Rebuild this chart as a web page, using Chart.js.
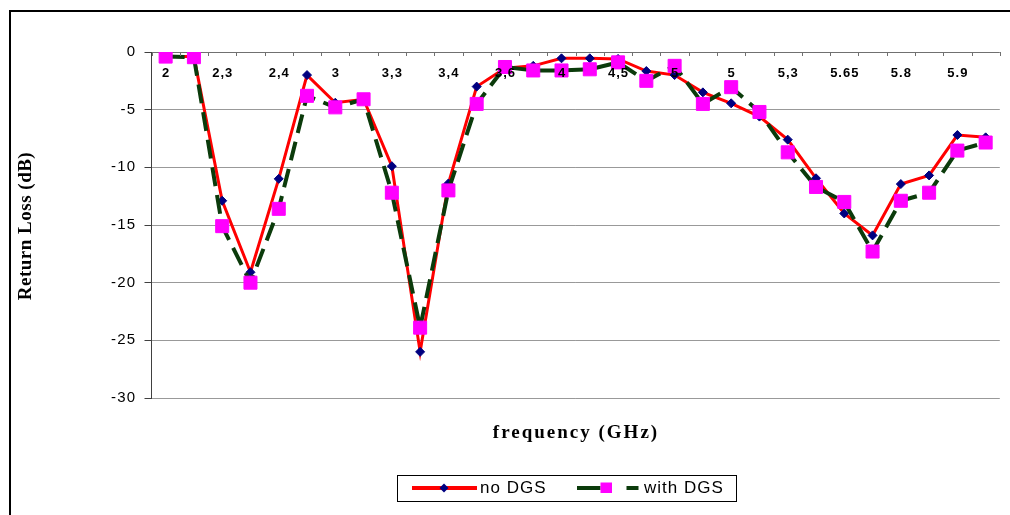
<!DOCTYPE html>
<html>
<head>
<meta charset="utf-8">
<script src="https://cdn.jsdelivr.net/npm/chart.js@4.4.1/dist/chart.umd.min.js"></script>
<style>
  html, body { margin: 0; padding: 0; background: #fff; }
  canvas { display: block; }
</style>
</head>
<body>
<canvas id="chart" width="1010" height="515"></canvas>
<script>
// Frequency labels shown on every second category of the top axis
const tickLabels = ['2', '2,3', '2,4', '3', '3,3', '3,4', '3,6', '4', '4,5', '5', '5', '5,3', '5.65', '5.8', '5.9'];
// 30 measurement points; the odd ones carry no printed label
const categories = tickLabels.flatMap(t => [t, '']);

// Return loss in dB
const noDGS = [-0.4, -0.4, -12.9, -19.1, -11.0, -2.0, -4.4, -4.1, -9.9, -26.0,
               -11.4, -3.0, -1.4, -1.2, -0.55, -0.55, -0.6, -1.65, -2.0, -3.5,
               -4.45, -5.6, -7.6, -10.95, -14.0, -15.9, -11.45, -10.7, -7.2, -7.4];
const withDGS = [-0.4, -0.45, -15.1, -20.0, -13.6, -3.8, -4.8, -4.1, -12.2, -23.9,
                 -12.0, -4.5, -1.3, -1.6, -1.6, -1.5, -0.9, -2.5, -1.2, -4.5,
                 -3.05, -5.2, -8.7, -11.7, -13.0, -17.3, -12.9, -12.2, -8.55, -7.85];

const seriesNames = ['no DGS', 'with DGS'];
const yMin = -30, yMax = 0, yStep = 5;
const xTitle = 'frequency (GHz)';
const yTitle = 'Return Loss (dB)';

const RED = '#ff0000', NAVY = '#000080', GREEN = '#0b3b0b', MAGENTA = '#ff00ff';
const SANS = '"Liberation Sans", Arial, sans-serif';
const SERIF = '"Liberation Serif", "Times New Roman", serif';

// Axis decorations, titles, frame and legend drawn on the chart canvas
const decor = {
  id: 'decor',
  beforeDraw(chart) {
    const ctx = chart.ctx;
    ctx.save();
    ctx.fillStyle = '#fff';
    ctx.fillRect(0, 0, chart.width, chart.height);
    ctx.restore();
    ctx.letterSpacing = '1.3px';
  },
  afterDatasetsDraw(chart) {
    const ctx = chart.ctx;
    const xs = chart.scales.x;
    const top = chart.chartArea.top;
    ctx.save();
    // category tick marks hanging below the top axis line
    ctx.strokeStyle = '#707070';
    ctx.lineWidth = 1;
    const n = categories.length;
    for (let i = 0; i <= n; i++) {
      const x = Math.round(xs.getPixelForDecimal(i / n)) + 0.5;
      ctx.beginPath();
      ctx.moveTo(x, top);
      ctx.lineTo(x, top + 4);
      ctx.stroke();
    }
    // category labels just below the axis line
    ctx.letterSpacing = '1px';
    ctx.font = 'bold 13px ' + SANS;
    ctx.fillStyle = '#000';
    ctx.textAlign = 'center';
    ctx.textBaseline = 'middle';
    categories.forEach((c, i) => {
      if (!c) return;
      ctx.fillText(c, xs.getPixelForValue(i) + 0.5, top + 21);
    });
    ctx.restore();
  },
  afterDraw(chart) {
    const ctx = chart.ctx;
    const ds = chart.data.datasets;
    ctx.save();

    // outer frame
    ctx.strokeStyle = '#000';
    ctx.lineWidth = 2;
    ctx.beginPath();
    ctx.moveTo(10, chart.height);
    ctx.lineTo(10, 11);
    ctx.lineTo(chart.width, 11);
    ctx.stroke();

    // axis titles
    ctx.fillStyle = '#000';
    ctx.textAlign = 'center';
    ctx.textBaseline = 'middle';
    ctx.font = 'bold 19px ' + SERIF;
    ctx.letterSpacing = '2px';
    ctx.fillText(xTitle, 576, 433);
    ctx.save();
    ctx.translate(26, 226);
    ctx.rotate(-Math.PI / 2);
    ctx.letterSpacing = '0.5px';
    ctx.fillText(yTitle, 0, 0);
    ctx.restore();

    // legend box
    ctx.lineWidth = 1;
    ctx.strokeStyle = '#000';
    ctx.strokeRect(397.5, 475.5, 339, 26);
    const ly = 488;

    // first entry: solid line with diamond
    ctx.strokeStyle = ds[0].borderColor;
    ctx.lineWidth = 4;
    ctx.beginPath();
    ctx.moveTo(412, ly);
    ctx.lineTo(477, ly);
    ctx.stroke();
    ctx.fillStyle = ds[0].pointBackgroundColor;
    ctx.beginPath();
    ctx.moveTo(444, ly - 4.5);
    ctx.lineTo(448.5, ly);
    ctx.lineTo(444, ly + 4.5);
    ctx.lineTo(439.5, ly);
    ctx.closePath();
    ctx.fill();

    // second entry: dashed line with square
    ctx.strokeStyle = ds[1].borderColor;
    ctx.lineWidth = 4;
    ctx.setLineDash([23.5, 26]);
    ctx.beginPath();
    ctx.moveTo(577, ly);
    ctx.lineTo(638.5, ly);
    ctx.stroke();
    ctx.setLineDash([]);
    ctx.fillStyle = ds[1].pointBackgroundColor;
    ctx.fillRect(600.5, ly - 5.5, 11.5, 10.5);

    ctx.fillStyle = '#000';
    ctx.textAlign = 'left';
    ctx.font = '17px ' + SANS;
    ctx.letterSpacing = '1px';
    ctx.fillText(ds[0].label, 480, ly);
    ctx.fillText(ds[1].label, 644, ly);

    ctx.restore();
  }
};

new Chart(document.getElementById('chart'), {
  type: 'line',
  data: {
    labels: categories,
    datasets: [
      {
        label: seriesNames[0],
        data: noDGS,
        borderColor: RED,
        borderWidth: 3,
        pointStyle: 'rectRot',
        pointRadius: 4.5,
        pointBorderWidth: 1,
        pointBackgroundColor: NAVY,
        pointBorderColor: NAVY,
        tension: 0,
        order: 1
      },
      {
        label: seriesNames[1],
        data: withDGS,
        borderColor: GREEN,
        borderWidth: 4,
        borderDash: [19, 9],
        pointStyle: 'rect',
        pointRadius: 9.2,
        pointBorderWidth: 1,
        pointBackgroundColor: MAGENTA,
        pointBorderColor: MAGENTA,
        tension: 0,
        order: 0
      }
    ]
  },
  options: {
    responsive: false,
    animation: false,
    devicePixelRatio: 1,
    layout: { padding: { left: 10, top: 52, right: 8, bottom: 117 } },
    plugins: {
      legend: { display: false },
      tooltip: { enabled: false },
      title: { display: false }
    },
    scales: {
      x: {
        type: 'category',
        display: false,
        offset: true
      },
      y: {
        min: yMin,
        max: yMax,
        afterFit(scale) { scale.width = 141.5; },
        ticks: {
          stepSize: yStep,
          padding: 8,
          color: '#000',
          font: { family: SANS, size: 15 }
        },
        grid: {
          color: c => (c.tick && c.tick.value === 0) ? '#707070' : '#999999',
          lineWidth: 1,
          tickLength: 7,
          tickColor: '#404040'
        },
        border: { color: '#404040', width: 1 }
      }
    }
  },
  plugins: [decor]
});
</script>
</body>
</html>
